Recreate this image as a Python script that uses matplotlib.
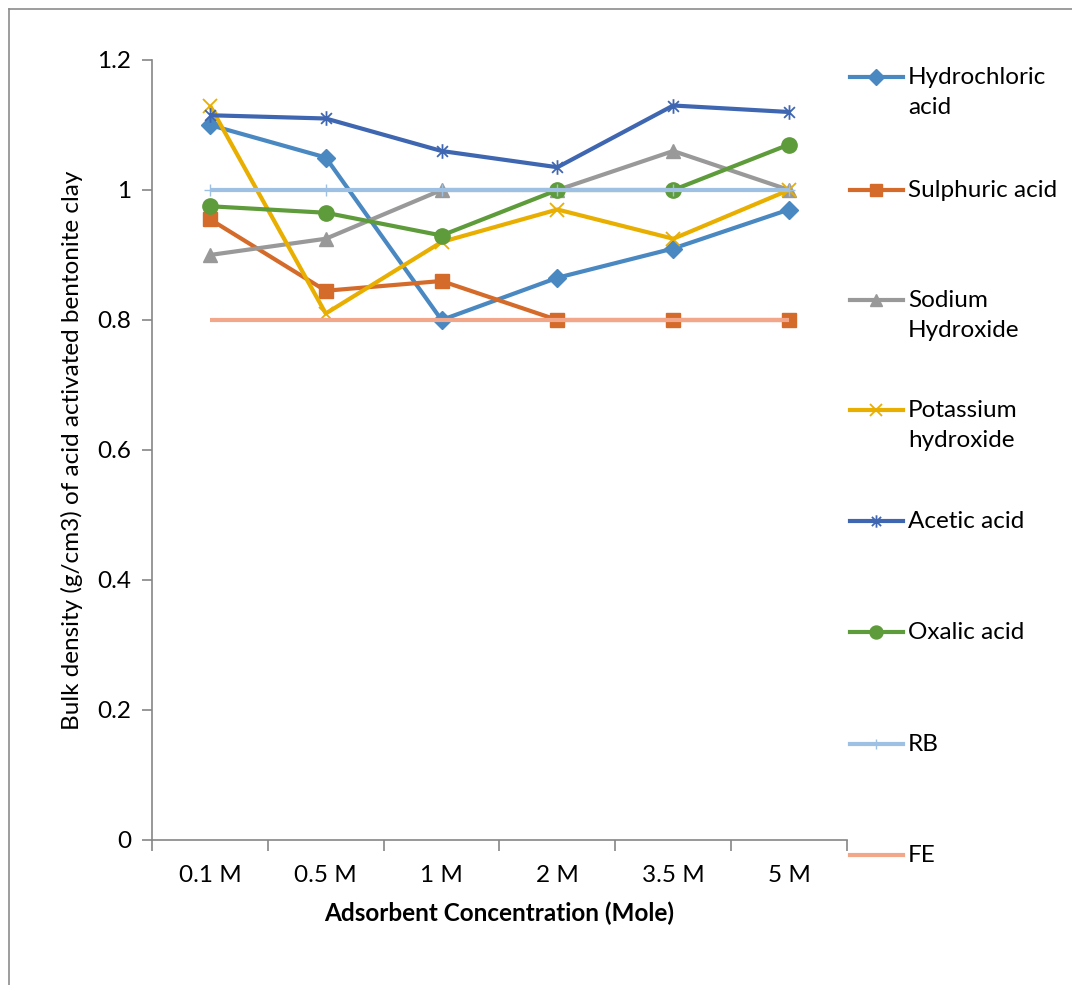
import numpy as np
import matplotlib
matplotlib.use("Agg")
import matplotlib.pyplot as plt
from matplotlib.lines import Line2D
from matplotlib.path import Path

plt.rcParams['font.family'] = ['Lato', 'DejaVu Sans']

# donnees
concentrations = ["0.1 M", "0.5 M", "1 M", "2 M", "3.5 M", "5 M"]
hydrochloric = [1.10, 1.05, 0.80, 0.865, 0.91, 0.97]
sulphuric = [0.955, 0.845, 0.86, 0.80, 0.80, 0.80]
sodium_hydroxide = [0.90, 0.925, 1.00, 1.00, 1.06, 1.00]
potassium_hydroxide = [1.13, 0.81, 0.92, 0.97, 0.925, 1.00]
acetic = [1.115, 1.11, 1.06, 1.035, 1.13, 1.12]
oxalic = [0.975, 0.965, 0.93, 1.00, 1.00, 1.07]
rb = [1.0, 1.0, 1.0, 1.0, 1.0, 1.0]
fe = [0.8, 0.8, 0.8, 0.8, 0.8, 0.8]

labels = ["Hydrochloric\nacid", "Sulphuric acid", "Sodium\nHydroxide", "Potassium\nhydroxide",
          "Acetic acid", "Oxalic acid", "RB", "FE"]
y_ticks = [0, 0.2, 0.4, 0.6, 0.8, 1.0, 1.2]
y_ticklabels = ["0", "0.2", "0.4", "0.6", "0.8", "1", "1.2"]

FS = 17.5

# marqueur etoile facon Excel (x + barre verticale)
asterisk = Path([(-1, -1), (1, 1), (-1, 1), (1, -1), (0, -1.35), (0, 1.35)],
                [Path.MOVETO, Path.LINETO, Path.MOVETO, Path.LINETO, Path.MOVETO, Path.LINETO])

styles = [
    dict(color='#4A88C2', marker='D', ms=9, mec='#4A88C2'),
    dict(color='#D46B2A', marker='s', ms=10.5, mec='#D46B2A'),
    dict(color='#999999', marker='^', ms=10.5, mec='#999999'),
    dict(color='#E8AE00', marker='x', ms=10.5, mew=1.3),
    dict(color='#3F66B0', marker=asterisk, ms=10.5, mew=1.3, mfc='none'),
    dict(color='#5E9B3A', marker='o', ms=11, mec='#5E9B3A'),
    dict(color='#9DC0E3', marker='+', ms=9, mew=1.0),
    dict(color='#F2A68A', marker='None'),
]
series = [hydrochloric, sulphuric, sodium_hydroxide, potassium_hydroxide, acetic, oxalic, rb, fe]

fig = plt.figure(figsize=(10.72, 9.85), dpi=100)
ax = fig.add_axes([152 / 1072, 1 - 840 / 985, (847 - 152) / 1072, (840 - 60) / 985])

x = np.arange(len(concentrations))
for vals, st in zip(series, styles):
    ax.plot(x, vals, lw=3.0, solid_capstyle='butt', **st)

ax.set_xlim(-0.5, len(concentrations) - 0.5)
ax.set_ylim(0, 1.2)
ax.set_yticks(y_ticks)
ax.set_yticklabels(y_ticklabels, fontsize=FS)
ax.set_xticks(x)
ax.set_xticklabels(concentrations, fontsize=FS)
ax.tick_params(axis='x', length=0, pad=18)
ax.set_xticks(np.arange(-0.5, len(concentrations)), minor=True)
ax.tick_params(axis='x', which='minor', length=8, color='#868686', width=1.2)
ax.tick_params(axis='y', length=7, color='#868686', width=1.2, pad=8)

for s in ['top', 'right']:
    ax.spines[s].set_visible(False)
for s in ['left', 'bottom']:
    ax.spines[s].set_color('#868686')
    ax.spines[s].set_linewidth(1.2)

ax.set_xlabel("Adsorbent Concentration (Mole)", fontsize=FS, fontweight='bold', labelpad=11)
ax.set_ylabel("Bulk density (g/cm3) of acid activated bentonite clay", fontsize=FS, labelpad=10)

# legende a droite, construite a la main
leg_y = [77, 190, 300, 410, 521, 632, 744, 855]
for yy, lab, st in zip(leg_y, labels, styles):
    yf = 1 - yy / 985
    h = Line2D([850 / 1072, 903 / 1072], [yf, yf], transform=fig.transFigure, lw=3.0,
               markevery=[], **st)
    fig.add_artist(h)
    if st.get('marker') not in (None, 'None'):
        m = Line2D([876 / 1072], [yf], transform=fig.transFigure, lw=0, **st)
        m.set_markersize(st.get('ms', 8) * 0.85)
        fig.add_artist(m)
    fig.text(908 / 1072, 1 - (yy - 10) / 985, lab, fontsize=FS, va='top', ha='left',
             linespacing=1.55)

# cadre du graphique
fig.add_artist(Line2D([9 / 1072, 9 / 1072], [0, 1 - 9 / 985], transform=fig.transFigure,
                      color='#8C8C8C', lw=1.2))
fig.add_artist(Line2D([9 / 1072, 1], [1 - 9 / 985, 1 - 9 / 985], transform=fig.transFigure,
                      color='#8C8C8C', lw=1.2))

fig.savefig("out.png", dpi=100)
